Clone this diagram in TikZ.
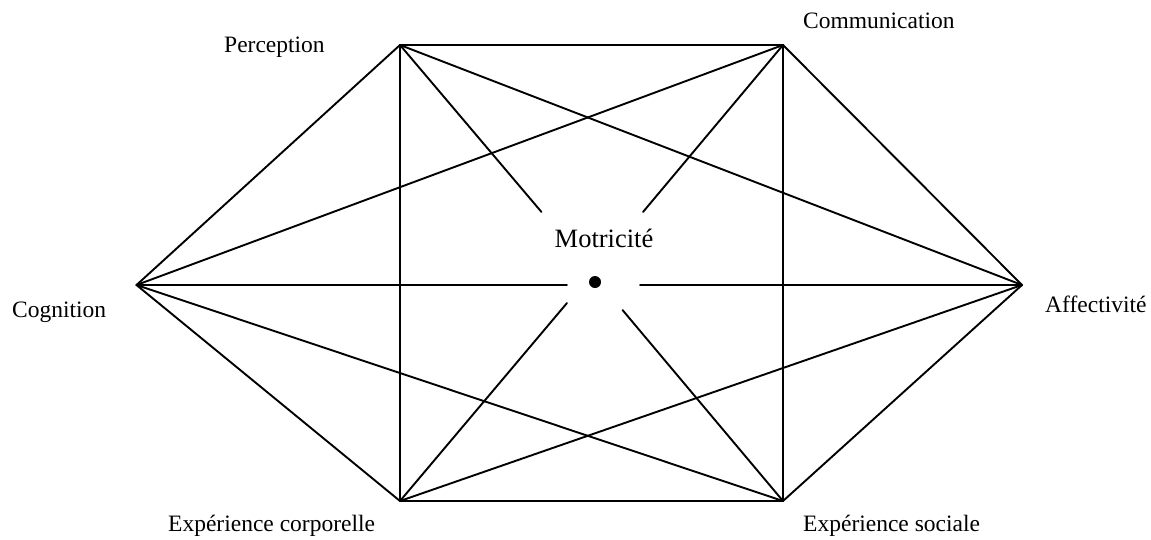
\documentclass[tikz,border=0pt]{standalone}
\usepackage{fontspec}
\setmainfont{Liberation Serif}
\begin{document}
\begin{tikzpicture}[x=1pt,y=-1pt,
  edge/.style={line width=1.9pt,line cap=round,line join=round},
  lbl/.style={inner sep=0pt,anchor=base west,font=\fontsize{23.5}{26}\selectfont},
  hub/.style={inner sep=0pt,anchor=base,font=\fontsize{26.5}{30}\selectfont}]
\useasboundingbox (0,0) rectangle (1151,539);
% corners of the hexagon
\coordinate (P) at (400,45);
\coordinate (C) at (783,45);
\coordinate (G) at (136.5,285);
\coordinate (A) at (1022,285);
\coordinate (E) at (400,501);
\coordinate (S) at (783,501);
% ends of the spokes near the centre
\coordinate (pP) at (541.5,212);
\coordinate (pC) at (643,212);
\coordinate (pG) at (567,285);
\coordinate (pA) at (640,285);
\coordinate (pE) at (567,303);
\coordinate (pS) at (622.5,310);
% labels
\node[lbl] (lP) at (224,52) {Perception};
\node[lbl] (lC) at (803,28) {Communication};
\node[lbl] (lG) at (12,317) {Cognition};
\node[lbl] (lA) at (1045,312) {Affectivité};
\node[lbl] (lE) at (168,531) {Expérience corporelle};
\node[lbl] (lS) at (803,531) {Expérience sociale};
\node[hub] (lM) at (604,247) {Motricité};
\node[circle,fill=black,inner sep=0pt,minimum size=12pt] (M) at (595,282) {};
% outline
\draw[edge] (P) -- (C) -- (A) -- (S) -- (E) -- (G) -- cycle;
% inner chords
\draw[edge] (P) -- (E);
\draw[edge] (C) -- (S);
\draw[edge] (G) -- (C);
\draw[edge] (G) -- (S);
\draw[edge] (A) -- (P);
\draw[edge] (A) -- (E);
% spokes towards the centre
\draw[edge] (P) -- (pP);
\draw[edge] (C) -- (pC);
\draw[edge] (G) -- (pG);
\draw[edge] (A) -- (pA);
\draw[edge] (E) -- (pE);
\draw[edge] (S) -- (pS);
\end{tikzpicture}
\end{document}
